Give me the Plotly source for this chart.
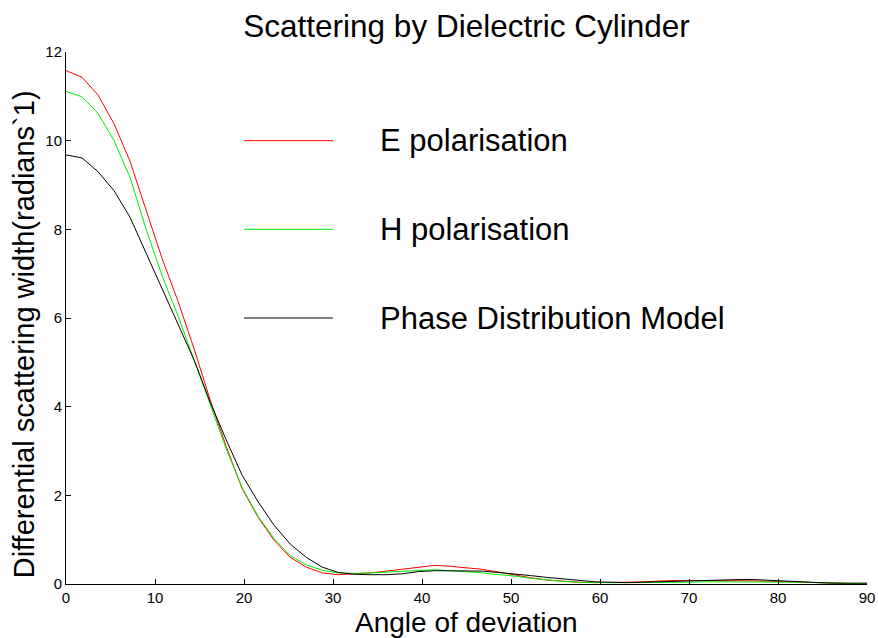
import plotly.graph_objects as go

# Angle of deviation (degrees)
angle = [0.0, 1.8, 3.6, 5.4, 7.2, 9.0, 10.8, 12.6, 14.4, 16.2, 18.0, 19.8, 21.6, 23.4, 25.2,
         27.0, 28.8, 30.6, 32.4, 34.2, 36.0, 37.8, 39.6, 41.4, 43.2, 45.0, 46.8, 48.6, 50.4,
         52.2, 54.0, 55.8, 57.6, 59.4, 61.2, 63.0, 64.8, 66.6, 68.4, 70.2, 72.0, 73.8, 75.6,
         77.4, 79.2, 81.0, 82.8, 84.6, 86.4, 88.2, 90.0]

e_pol = [11.58, 11.43, 11.03, 10.38, 9.53, 8.45, 7.34, 6.37, 5.30, 4.15, 3.10, 2.15, 1.50, 0.98, 0.60,
         0.38, 0.25, 0.21, 0.23, 0.25, 0.29, 0.33, 0.38, 0.42, 0.40, 0.37, 0.33, 0.27, 0.20,
         0.14, 0.09, 0.06, 0.04, 0.03, 0.03, 0.04, 0.05, 0.07, 0.08, 0.08, 0.08, 0.08, 0.08,
         0.07, 0.06, 0.05, 0.04, 0.03, 0.02, 0.01, 0.00]

h_pol = [11.11, 10.99, 10.62, 10.00, 9.17, 8.00, 6.95, 6.04, 5.05, 4.05, 3.05, 2.17, 1.52, 1.02, 0.64,
         0.43, 0.31, 0.25, 0.24, 0.25, 0.27, 0.29, 0.31, 0.32, 0.30, 0.28, 0.25, 0.21, 0.18,
         0.13, 0.09, 0.06, 0.04, 0.03, 0.03, 0.03, 0.03, 0.04, 0.04, 0.04, 0.05, 0.05, 0.05,
         0.05, 0.05, 0.04, 0.04, 0.03, 0.02, 0.01, 0.00]

pdm = [9.68, 9.61, 9.30, 8.87, 8.27, 7.47, 6.66, 5.85, 5.05, 4.10, 3.25, 2.45, 1.85, 1.32, 0.90,
       0.60, 0.38, 0.26, 0.22, 0.21, 0.21, 0.23, 0.28, 0.30, 0.30, 0.30, 0.29, 0.26, 0.23,
       0.19, 0.15, 0.12, 0.09, 0.05, 0.04, 0.03, 0.04, 0.05, 0.07, 0.08, 0.09, 0.10, 0.10,
       0.10, 0.08, 0.06, 0.05, 0.03, 0.02, 0.02, 0.02]

series_names = ["E polarisation", "H polarisation", "Phase Distribution Model"]
series_colors = ["#ff0000", "#00ee00", "#000000"]
series_values = [e_pol, h_pol, pdm]

# in-plot legend: line from x=20..30 at y levels, text at x=35
legend_y = [10, 8, 6]
legend_x0, legend_x1, legend_tx = 20, 30, 35

x_ticks = [0, 10, 20, 30, 40, 50, 60, 70, 80, 90]
y_ticks = [0, 2, 4, 6, 8, 10, 12]

FONT = "Liberation Sans, Arial, sans-serif"

fig = go.Figure()
for name, color, vals in zip(series_names, series_colors, series_values):
    fig.add_trace(go.Scatter(x=angle, y=vals, mode="lines", name=name,
                             line=dict(color=color, width=1), showlegend=False,
                             hoverinfo="skip"))

shapes = []
annotations = []
for name, color, ly in zip(series_names, series_colors, legend_y):
    shapes.append(dict(type="line", xref="x", yref="y", x0=legend_x0, x1=legend_x1,
                       y0=ly, y1=ly, line=dict(color=color, width=1)))
    annotations.append(dict(xref="x", yref="y", x=legend_tx, y=ly, text=name,
                            showarrow=False, xanchor="left", yanchor="middle",
                            font=dict(family=FONT, size=31, color="black")))

annotations.append(dict(xref="paper", yref="paper", x=0.5, y=-0.0724,
                        text="Angle of deviation", showarrow=False,
                        xanchor="center", yanchor="middle",
                        font=dict(family=FONT, size=28, color="black")))
annotations.append(dict(xref="paper", yref="paper", x=-0.052, y=0.47,
                        text="Differential scattering width(radians`1)", showarrow=False,
                        textangle=-90, xanchor="center", yanchor="middle",
                        font=dict(family=FONT, size=29, color="black")))

fig.update_layout(
    width=878, height=638,
    margin=dict(l=66, r=11, t=52, b=54),
    paper_bgcolor="white", plot_bgcolor="white",
    title=dict(text="Scattering by Dielectric Cylinder", xref="paper", x=0.5,
               yref="container", y=1 - 26 / 638, yanchor="middle", xanchor="center",
               font=dict(family=FONT, size=31.5, color="black")),
    shapes=shapes, annotations=annotations,
    font=dict(family=FONT, color="black"),
    hovermode=False,
)
fig.update_xaxes(range=[0, 90], tickvals=x_ticks, showgrid=False, zeroline=False,
                 automargin=False,
                 showline=True, linecolor="black", linewidth=1, ticks="inside",
                 ticklen=5, tickcolor="black", tickfont=dict(family=FONT, size=15, color="black"))
fig.update_yaxes(range=[0, 12], tickvals=y_ticks, showgrid=False, zeroline=False,
                 automargin=False,
                 showline=True, linecolor="black", linewidth=1, ticks="inside",
                 ticklen=5, tickcolor="black", tickfont=dict(family=FONT, size=15, color="black"))

fig.write_html("out.html", config={"displayModeBar": False},
               post_script="document.body.style.margin='0';document.body.style.overflow='hidden';")
